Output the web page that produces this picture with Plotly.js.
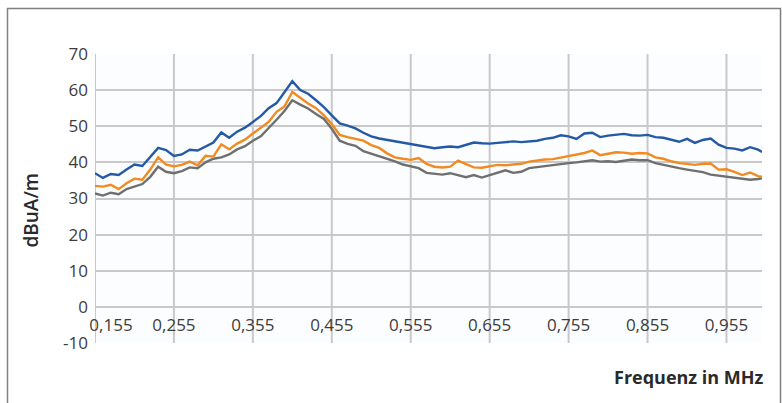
<!DOCTYPE html>
<html>
<head>
<meta charset="utf-8">
<script src="https://cdn.plot.ly/plotly-3.0.1.min.js"></script>
<style>
  html, body { margin: 0; padding: 0; background: #ffffff; }
  #chart { width: 782px; height: 403px; }
</style>
</head>
<body>
<div id="chart"></div>
<script>
// Frequency in MHz
const freq = [0.155,0.165,0.175,0.185,0.195,0.205,0.215,0.225,0.235,0.245,
  0.255,0.265,0.275,0.285,0.295,0.305,0.315,0.325,0.335,0.345,
  0.355,0.365,0.375,0.385,0.395,0.405,0.415,0.425,0.435,0.445,
  0.455,0.465,0.475,0.485,0.495,0.505,0.515,0.525,0.535,0.545,
  0.555,0.565,0.575,0.585,0.595,0.605,0.615,0.625,0.635,0.645,
  0.655,0.665,0.675,0.685,0.695,0.705,0.715,0.725,0.735,0.745,
  0.755,0.765,0.775,0.785,0.795,0.805,0.815,0.825,0.835,0.845,
  0.855,0.865,0.875,0.885,0.895,0.905,0.915,0.925,0.935,0.945,
  0.955,0.965,0.975,0.985,0.995,1.000];

const blueSeries = [37.0,35.7,36.8,36.5,38.0,39.4,39.0,41.5,44.0,43.4,
  41.8,42.2,43.5,43.3,44.5,45.5,48.3,46.8,48.5,49.6,
  51.2,52.8,55.0,56.4,59.4,62.5,60.0,59.0,57.2,55.3,
  53.0,50.8,50.2,49.4,48.2,47.2,46.6,46.2,45.8,45.5,
  45.2,44.6,44.2,43.9,44.2,44.4,44.2,44.8,45.5,45.3,
  45.2,45.4,45.5,45.8,45.6,45.7,46.0,46.5,46.8,47.5,
  47.2,46.5,48.0,48.2,47.0,47.4,47.6,47.9,47.5,47.4,
  47.6,47.0,46.8,46.2,45.7,46.5,45.4,46.2,46.6,44.9,
  44.0,43.8,43.3,44.2,43.5,42.9];

const orangeSeries = [33.5,33.3,33.8,32.6,34.2,35.5,35.2,38.0,41.4,39.4,
  38.9,39.3,40.2,39.2,41.8,41.6,45.0,43.6,45.2,46.3,
  48.0,49.6,51.2,54.0,55.5,59.5,57.8,56.3,55.0,53.0,
  50.6,47.6,47.0,46.5,46.0,44.8,44.0,42.5,41.4,41.0,
  40.7,41.2,39.6,38.8,38.6,38.8,40.5,39.5,38.6,38.5,
  38.9,39.3,39.2,39.4,39.6,40.2,40.6,40.8,40.9,41.3,
  41.6,42.0,42.6,43.3,42.0,42.4,42.8,42.7,42.4,42.6,
  42.5,41.4,41.0,40.3,39.8,39.6,39.3,39.6,39.7,38.0,
  38.1,37.4,36.5,37.2,36.2,36.0];

const graySeries = [31.4,30.8,31.6,31.2,32.6,33.3,34.0,36.0,38.8,37.4,
  37.0,37.6,38.6,38.4,40.0,41.0,41.4,42.2,43.6,44.5,
  46.0,47.2,49.4,51.8,54.2,57.2,56.0,54.9,53.4,52.0,
  49.3,46.0,45.1,44.6,43.1,42.4,41.8,40.9,40.3,39.4,
  38.9,38.4,37.1,36.8,36.6,37.0,36.4,35.9,36.5,35.8,
  36.5,37.2,37.8,37.1,37.4,38.4,38.7,39.0,39.4,39.5,
  39.8,40.0,40.3,40.6,40.2,40.3,40.1,40.4,40.8,40.6,
  40.6,39.8,39.3,38.7,38.4,38.0,37.6,37.3,36.6,36.3,
  36.0,35.8,35.5,35.2,35.4,35.6];

const xTickVals = [0.255,0.355,0.455,0.555,0.655,0.755,0.855,0.955];
const xTickText = ['0,255','0,355','0,455','0,555','0,655','0,755','0,855','0,955'];
const firstTickVal = [0.155];
const firstTickText = ['0,155'];
const yTickVals = [-10,0,10,20,30,40,50,60,70];
const yTickText = ['-10','0','10','20','30','40','50','60','70'];

const yTitle = 'dBuA/m';
const xTitle = 'Frequenz in MHz';

const tickFont = {family: '"Open Sans", sans-serif', size: 17, color: '#3c3c3c'};
const gridColor = '#c9c9c9';

const traces = [
  {x: freq, y: graySeries, type: 'scatter', mode: 'lines',
   line: {color: '#6f6f6f', width: 2.4}, hoverinfo: 'skip'},
  {x: freq, y: orangeSeries, type: 'scatter', mode: 'lines',
   line: {color: '#f28a22', width: 2.4}, hoverinfo: 'skip'},
  {x: freq, y: blueSeries, type: 'scatter', mode: 'lines',
   line: {color: '#2459a6', width: 2.4}, hoverinfo: 'skip'}
];

const layout = {
  width: 782, height: 403,
  margin: {l: 95, r: 20, t: 54, b: 60, pad: 0},
  paper_bgcolor: '#ffffff',
  plot_bgcolor: '#fcfdff',
  showlegend: false,
  xaxis: {
    range: [0.155, 1.0],
    tickvals: xTickVals, ticktext: xTickText,
    showgrid: false, zeroline: false, showline: false,
    ticks: '', tickfont: tickFont,
    anchor: 'free', position: 0.125,
    ticklabelstandoff: 6
  },
  xaxis2: {
    range: [0.155, 1.0],
    overlaying: 'x',
    tickvals: firstTickVal, ticktext: firstTickText,
    showgrid: false, zeroline: false, showline: false,
    ticks: '', tickfont: tickFont,
    anchor: 'free', position: 0.125, side: 'bottom',
    ticklabelshift: 16, ticklabelstandoff: 6
  },
  yaxis: {
    range: [-10, 70],
    tickvals: yTickVals, ticktext: yTickText,
    showgrid: true, gridcolor: gridColor, gridwidth: 2,
    zeroline: false, showline: false,
    ticks: '', tickfont: tickFont,
    ticklabelstandoff: 6
  },
  shapes: [],
  annotations: [
    {text: yTitle, xref: 'paper', yref: 'paper', x: -0.0952, y: 0.46,
     xanchor: 'center', yanchor: 'middle', textangle: -90, showarrow: false,
     font: {family: '"Open Sans", sans-serif', size: 19, color: '#2a2a2a', weight: 600}},
    {text: xTitle, xref: 'paper', yref: 'paper', x: 0.8906, y: -0.1176,
     xanchor: 'center', yanchor: 'middle', showarrow: false,
     font: {family: '"Open Sans", sans-serif', size: 18, color: '#2a2a2a', weight: 700}}
  ]
};

// vertical grid lines at the labelled frequencies (drawn in data coordinates)
const vGrid = firstTickVal.concat(xTickVals);
vGrid.forEach(function (v) {
  layout.shapes.push({type: 'line', xref: 'x', yref: 'y', x0: v, x1: v, y0: -10, y1: 70,
    line: {color: gridColor, width: 2}, layer: 'below'});
});
// outer frame
layout.shapes.push({type: 'rect', xref: 'paper', yref: 'paper',
  x0: (7.5 - 95) / 667, x1: (780.5 - 95) / 667, y0: -0.3, y1: (343 - 8.5) / 289,
  line: {color: '#808080', width: 1.5}, fillcolor: 'rgba(0,0,0,0)', layer: 'below'});

// dummy trace to activate xaxis2
traces.push({x: [0.155], y: [null], xaxis: 'x2', type: 'scatter', mode: 'lines', hoverinfo: 'skip'});

Plotly.newPlot('chart', traces, layout, {staticPlot: true, displayModeBar: false});
</script>
</body>
</html>
